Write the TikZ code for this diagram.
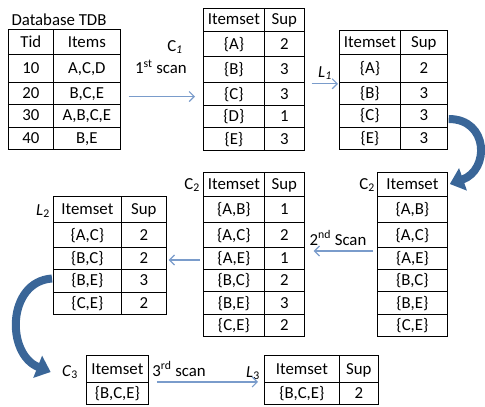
\documentclass[tikz,border=0pt]{standalone}
\usepackage{fontspec}
\setmainfont{Carlito}
\usepackage{array}
\usepackage{tikz}
\usetikzlibrary{arrows.meta}
\usetikzlibrary{calc}

\newcolumntype{M}[1]{>{\centering\arraybackslash}p{#1pt}}
\newcommand{\rowh}[1]{\rule[\dimexpr 5.5pt-#1pt/2\relax]{0pt}{#1pt}}
\setlength{\tabcolsep}{0pt}
\setlength{\arrayrulewidth}{0.9pt}

\definecolor{scanblue}{RGB}{122,156,203}
\definecolor{loopblue}{RGB}{58,102,152}

\begin{document}
\begin{tikzpicture}[x=1pt,y=-1pt,font=\fontsize{16.8}{19}\selectfont,
        tbl/.style={anchor=north west,inner sep=0,outer sep=0},
        scan/.style={-{Straight Barb[length=5pt,width=10pt]},line width=1.2pt,draw=scanblue},
        bigloop/.style={-{Triangle[length=14pt,width=23pt]},line width=8pt,draw=loopblue}]
        \useasboundingbox (0,0) rectangle (485,407);
        % first pass
        \node[anchor=west] (tdbtitle) at (8,20) {Database TDB};
        \node[tbl] (tdb) at (8,29) {%
          \begin{tabular}{|M{44}|M{66}|}\hline
          \rowh{24}Tid & Items\\\hline
          \rowh{27}10 & A,C,D\\\hline
          \rowh{21}20 & B,C,E\\\hline
          \rowh{20}30 & A,B,C,E\\\hline
          \rowh{21}40 & B,E\\\hline
          \end{tabular}};
        \node[tbl] (c1) at (203,8) {%
          \begin{tabular}{|M{60}|M{39}|}\hline
          \rowh{21}Itemset & Sup\\\hline
          \rowh{24}\{A\} & 2\\\hline
          \rowh{26}\{B\} & 3\\\hline
          \rowh{21}\{C\} & 3\\\hline
          \rowh{20}\{D\} & 1\\\hline
          \rowh{21}\{E\} & 3\\\hline
          \end{tabular}};
        \node[tbl] (l1) at (339,30) {%
          \begin{tabular}{|M{60}|M{46}|}\hline
          \rowh{23}Itemset & Sup\\\hline
          \rowh{27}\{A\} & 2\\\hline
          \rowh{21}\{B\} & 3\\\hline
          \rowh{20}\{C\} & 3\\\hline
          \rowh{21}\{E\} & 3\\\hline
          \end{tabular}};
        \node (c1lab) at (175,47) {C\textsubscript{\itshape 1}};
        \node (scan1) at (161,67) {1\textsuperscript{st} scan};
        \node (l1lab) at (325,73) {\textit{L}\textsubscript{\itshape 1}};
        \draw[scan] ($(tdb.east)+(8,7)$) -- ($(tdb.east -| c1.west)+(-8,7)$);
        \draw[scan] ($(c1.east)+(7,4.5)$) -- ($(c1.east -| l1.west)+(-1,4.5)$);
        % second pass
        \node[tbl] (c2) at (377,172) {%
          \begin{tabular}{|M{69}|}\hline
          \rowh{23}Itemset\\\hline
          \rowh{25}\{A,B\}\\\hline
          \rowh{24}\{A,C\}\\\hline
          \rowh{21}\{A,E\}\\\hline
          \rowh{20}\{B,C\}\\\hline
          \rowh{21}\{B,E\}\\\hline
          \rowh{20}\{C,E\}\\\hline
          \end{tabular}};
        \node[tbl] (c2s) at (203,172) {%
          \begin{tabular}{|M{60}|M{39}|}\hline
          \rowh{23}Itemset & Sup\\\hline
          \rowh{25}\{A,B\} & 1\\\hline
          \rowh{24}\{A,C\} & 2\\\hline
          \rowh{21}\{A,E\} & 1\\\hline
          \rowh{20}\{B,C\} & 2\\\hline
          \rowh{21}\{B,E\} & 3\\\hline
          \rowh{20}\{C,E\} & 2\\\hline
          \end{tabular}};
        \node[tbl] (l2) at (53,196) {%
          \begin{tabular}{|M{67}|M{44}|}\hline
          \rowh{25}Itemset & Sup\\\hline
          \rowh{24}\{A,C\} & 2\\\hline
          \rowh{21}\{B,C\} & 2\\\hline
          \rowh{20}\{B,E\} & 3\\\hline
          \rowh{21}\{C,E\} & 2\\\hline
          \end{tabular}};
        \node (c2lab) at (367,185) {C\textsubscript{2}};
        \node (c2slab) at (192,185) {C\textsubscript{2}};
        \node (scan2) at (338,238) {2\textsuperscript{nd} Scan};
        \node (l2lab) at (43,211) {\textit{L}\textsubscript{2}};
        \draw[scan] ($(c2.west)+(-4,-3.5)$) -- ($(c2.west -| c2s.east)+(9,-3.5)$);
        \draw[scan] ($(c2s.west)+(-3,5.5)$) -- ($(c2s.west -| l2.east)+(2,5.5)$);
        % third pass
        \node[tbl] (c3) at (86,355) {%
          \begin{tabular}{|M{61}|}\hline
          \rowh{26}Itemset\\\hline
          \rowh{20}\{B,C,E\}\\\hline
          \end{tabular}};
        \node[tbl] (l3) at (264,355) {%
          \begin{tabular}{|M{74}|M{38}|}\hline
          \rowh{26}Itemset & Sup\\\hline
          \rowh{20}\{B,C,E\} & 2\\\hline
          \end{tabular}};
        \node (c3lab) at (70,372) {\textit{C}\textsubscript{3}};
        \node (scan3) at (179,369) {3\textsuperscript{rd} scan};
        \node (l3lab) at (253,373) {\textit{L}\textsubscript{3}};
        \draw[scan] ($(c3.east)+(8,2)$) -- ($(c3.east -| l3.west)+(-6,2)$);
        % passes linked
        \draw[bigloop] ($(l1.east)+(1,29)$) .. controls +(40,0) and +(40,-14) .. ($(c2.north east)+(2,12)$);
        \draw[bigloop] ($(l2.west)+(-1,23)$) .. controls +(-45,3) and +(-45,-18) .. ($(c3lab.west)+(-8,0)$);
\end{tikzpicture}
\end{document}
